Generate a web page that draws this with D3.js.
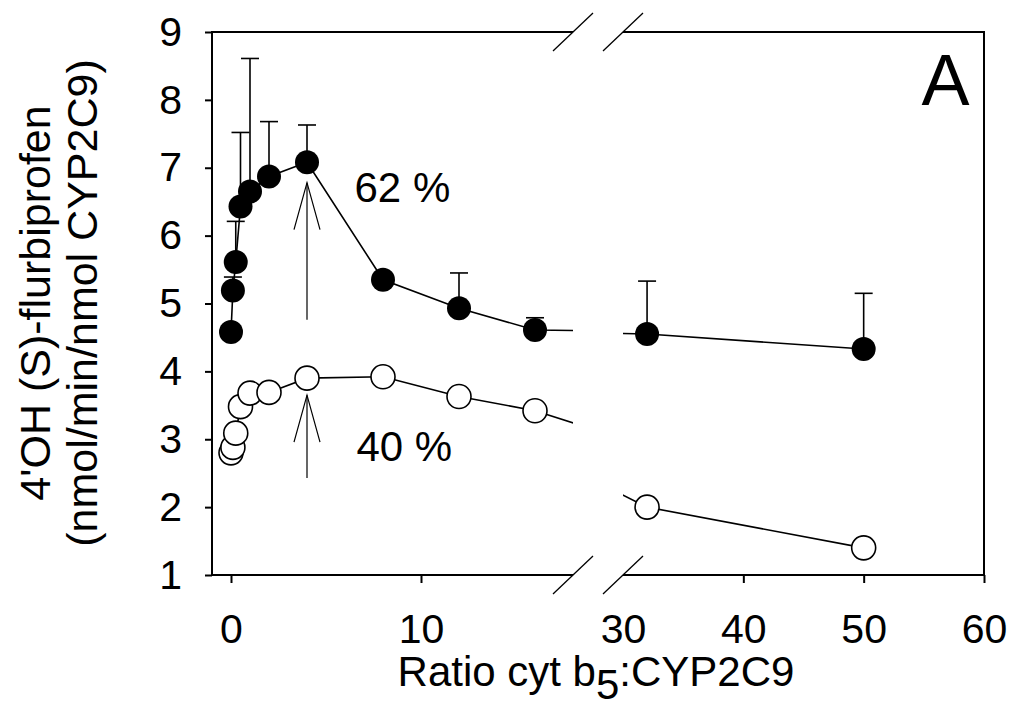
<!DOCTYPE html>
<html>
<head>
    <title>cyt b5 ratio plot</title>
    <script src="https://d3js.org/d3.v7.min.js"></script>
    <style>
        body { margin: 0; background: #fff; }
        text { font-family: "Liberation Sans", Arial, sans-serif; fill: #000; }
    </style>
</head>
<body>
<script>
    // ratio cyt b5 : CYP2C9
    var ratios = [0, 0.1, 0.25, 0.5, 1, 2, 4, 8, 12, 16, 32, 50];
    // filled circles (top series) and their upper error bars
    var filledVals = [4.58, 5.19, 5.61, 6.43, 6.65, 6.87, 7.08, 5.35, 4.93, 4.61, 4.55, 4.33];
    var filledErr  = [0, 0.20, 0.60, 1.09, 1.96, 0.81, 0.55, 0, 0.52, 0.18, 0.78, 0.82];
    // open circles (bottom series)
    var openVals = [2.80, 2.88, 3.09, 3.48, 3.68, 3.69, 3.90, 3.92, 3.63, 3.42, 2.00, 1.40];

    var yTicks = [1, 2, 3, 4, 5, 6, 7, 8, 9];
    var xTicksLeft = [0, 10];
    var xTicksRight = [30, 40, 50, 60];

    // arrows at the maximum: [x, from y, to y]
    var arrows = [[4, 4.76, 6.78], [4, 2.43, 3.65]];
    var notes = [{x: 6.5, y: 6.5, t: "62 %"}, {x: 6.6, y: 2.68, t: "40 %"}];

    var width = 1011, height = 706;
    // plot box (note: "top" is reserved on window, so use pTop etc.)
    var pLeft = 212, pRight = 984, pTop = 32, pBottom = 575;
    var breakA = 573, breakB = 623;

    var svg = d3.select("body").append("svg")
        .attr("width", width)
        .attr("height", height);

    var xLeft = d3.scaleLinear().domain([-1, 18]).range([pLeft, breakA]);
    var xRight = d3.scaleLinear().domain([30, 60]).range([breakB, pRight]);
    var y = d3.scaleLinear().domain([1, 9]).range([pBottom, pTop]);

    function xp(v) { return v <= 18 ? xLeft(v) : xRight(v); }

    // clip regions for the two halves of the broken axis
    var defs = svg.append("defs");
    defs.append("clipPath").attr("id", "clipL").append("rect")
        .attr("x", pLeft).attr("y", 0).attr("width", breakA - pLeft).attr("height", height);
    defs.append("clipPath").attr("id", "clipR").append("rect")
        .attr("x", breakB).attr("y", 0).attr("width", pRight - breakB).attr("height", height);

    // frame
    var frame = svg.append("g").attr("stroke", "#000").attr("stroke-width", 2).attr("fill", "none");
    frame.append("line").attr("x1", pLeft).attr("x2", pLeft).attr("y1", pTop - 1).attr("y2", pBottom + 1);
    frame.append("line").attr("x1", pRight).attr("x2", pRight).attr("y1", pTop - 1).attr("y2", pBottom);
    [pTop, pBottom].forEach(function (yy) {
        frame.append("line").attr("x1", pLeft).attr("x2", breakA).attr("y1", yy).attr("y2", yy);
        frame.append("line").attr("x1", breakB).attr("x2", pRight).attr("y1", yy).attr("y2", yy);
        // break marks
        [breakA, breakB].forEach(function (xx) {
            svg.append("line")
                .attr("x1", xx - 20).attr("y1", yy + 19)
                .attr("x2", xx + 20).attr("y2", yy - 19)
                .attr("stroke", "#000").attr("stroke-width", 1.3);
        });
    });

    // y axis
    var yAxis = svg.append("g")
        .attr("transform", "translate(" + pLeft + ",0)")
        .call(d3.axisLeft(y).tickValues(yTicks).tickSize(7).tickPadding(23).tickSizeOuter(0));
    yAxis.select(".domain").remove();

    // x axes (two segments)
    var xAxisL = svg.append("g")
        .attr("transform", "translate(0," + pBottom + ")")
        .call(d3.axisBottom(xLeft).tickValues(xTicksLeft).tickSize(8).tickPadding(31).tickSizeOuter(0));
    var xAxisR = svg.append("g")
        .attr("transform", "translate(0," + pBottom + ")")
        .call(d3.axisBottom(xRight).tickValues(xTicksRight).tickSize(8).tickPadding(31).tickSizeOuter(0));
    xAxisL.select(".domain").remove();
    xAxisR.select(".domain").remove();
    // no tick mark at 30, it sits on the break
    xAxisR.selectAll(".tick").filter(function (d) { return d === 30; }).select("line").remove();

    svg.selectAll(".tick line").attr("stroke", "#000").attr("stroke-width", 2);
    svg.selectAll(".tick text")
        .style("font-family", "'Liberation Sans', Arial, sans-serif")
        .style("font-size", "41px");

    // data lines, clipped into each half
    function drawLine(vals) {
        var pts = ratios.map(function (r, i) { return [r, vals[i]]; });
        [["clipL", xLeft], ["clipR", xRight]].forEach(function (c) {
            var line = d3.line().x(function (d) { return c[1](d[0]); }).y(function (d) { return y(d[1]); });
            svg.append("path")
                .attr("clip-path", "url(#" + c[0] + ")")
                .attr("d", line(pts))
                .attr("fill", "none")
                .attr("stroke", "#000")
                .attr("stroke-width", 1.6);
        });
    }
    drawLine(filledVals);
    drawLine(openVals);

    // error bars (upper only)
    var eb = svg.append("g").attr("stroke", "#000").attr("stroke-width", 1.6);
    ratios.forEach(function (r, i) {
        if (!filledErr[i]) return;
        var cx = xp(r), ye = y(filledVals[i] + filledErr[i]);
        eb.append("line").attr("x1", cx).attr("x2", cx).attr("y1", y(filledVals[i])).attr("y2", ye);
        eb.append("line").attr("x1", cx - 9).attr("x2", cx + 9).attr("y1", ye).attr("y2", ye);
    });

    // markers
    svg.append("g").selectAll("circle")
        .data(ratios)
        .join("circle")
        .attr("cx", function (d) { return xp(d); })
        .attr("cy", function (d, i) { return y(openVals[i]); })
        .attr("r", 12)
        .attr("fill", "#fff")
        .attr("stroke", "#000")
        .attr("stroke-width", 1.6);

    svg.append("g").selectAll("circle")
        .data(ratios)
        .join("circle")
        .attr("cx", function (d) { return xp(d); })
        .attr("cy", function (d, i) { return y(filledVals[i]); })
        .attr("r", 12)
        .attr("fill", "#000");

    // arrows
    arrows.forEach(function (a) {
        var ax = xp(a[0]), y0 = y(a[1]), y1 = y(a[2]);
        var g = svg.append("g").attr("stroke", "#000").attr("stroke-width", 1.2).attr("fill", "none");
        g.append("line").attr("x1", ax).attr("x2", ax).attr("y1", y0).attr("y2", y1);
        g.append("polyline").attr("points",
            (ax - 13) + "," + (y1 + 47) + " " + ax + "," + y1 + " " + (ax + 13) + "," + (y1 + 47));
    });

    notes.forEach(function (n) {
        svg.append("text")
            .attr("x", xp(n.x))
            .attr("y", y(n.y))
            .style("font-size", "42px")
            .text(n.t);
    });

    // panel letter
    svg.append("text")
        .attr("x", xRight(54.8))
        .attr("y", y(7.92))
        .style("font-size", "72px")
        .text("A");

    // axis titles
    var xTitle = svg.append("text")
        .attr("x", 596)
        .attr("y", 686)
        .attr("text-anchor", "middle")
        .style("font-size", "42px");
    xTitle.append("tspan").text("Ratio cyt b");
    xTitle.append("tspan").attr("dy", 13).text("5");
    xTitle.append("tspan").attr("dy", -13).text(":CYP2C9");

    var yTitle = svg.append("text")
        .attr("transform", "translate(50,303) rotate(-90)")
        .attr("text-anchor", "middle")
        .style("font-size", "43px");
    yTitle.append("tspan").attr("x", 0).attr("y", 0).text("4'OH (S)-flurbiprofen");
    yTitle.append("tspan").attr("x", 0).attr("y", 47).text("(nmol/min/nmol CYP2C9)");
</script>
</body>
</html>
